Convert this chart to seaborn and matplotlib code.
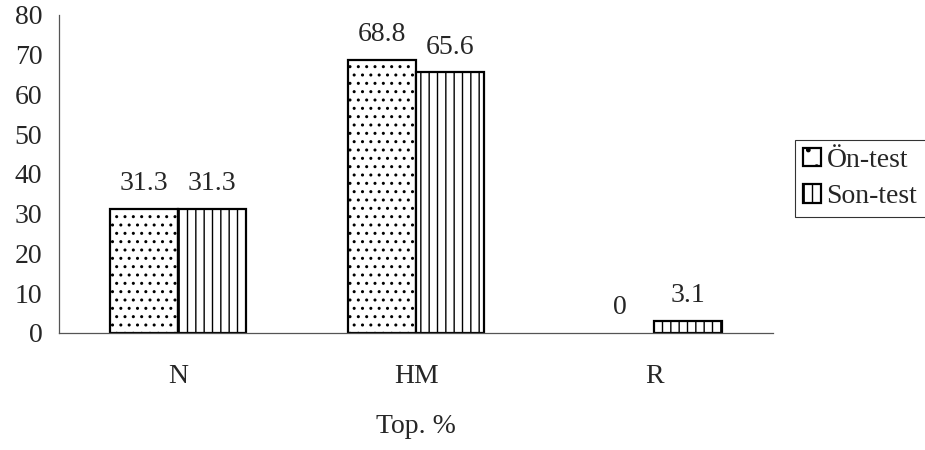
import pandas as pd
import seaborn as sns
import matplotlib
matplotlib.use('Agg')
import matplotlib.pyplot as plt
from matplotlib.patches import Patch

# Data
categories = ['N', 'HM', 'R']
pre_test = [31.3, 68.8, 0]
post_test = [31.3, 65.6, 3.1]
series_names = ['Ön-test', 'Son-test']

df = pd.DataFrame({
    'category': categories * 2,
    'value': pre_test + post_test,
    'test': [series_names[0]] * 3 + [series_names[1]] * 3,
})

sns.set_style('white')
plt.rcParams['font.family'] = ['Liberation Serif', 'DejaVu Serif']
plt.rcParams['hatch.linewidth'] = 1.0
plt.rcParams['hatch.color'] = 'black'
fs = 20

fig = plt.figure(figsize=(9.25, 4.5), dpi=100)
ax = fig.add_axes([0.0638, 0.26, 0.772, 0.7067])

sns.barplot(data=df, x='category', y='value', hue='test', order=categories,
            hue_order=series_names, palette=['white', 'white'], width=0.572,
            edgecolor='black', linewidth=1.6, ax=ax, legend=False, saturation=1)

hatches = ['..', '||']
for container, h in zip(ax.containers, hatches):
    for bar in container:
        bar.set_hatch(h)
        if bar.get_height() == 0:
            bar.set_visible(False)
    ax.bar_label(container, labels=[f'{v:g}' for v in container.datavalues],
                 padding=9, fontsize=fs)

ax.set_ylim(0, 80)
ax.set_xlim(-0.5, 2.5)
ax.set_yticks(range(0, 81, 10))
ax.set_xticks([-0.5, 0.5, 1.5, 2.5], minor=True)
ax.tick_params(axis='x', which='major', length=0, pad=22, labelsize=fs)
ax.tick_params(axis='x', which='minor', length=7, width=0.9, direction='out', color='#555555')
ax.tick_params(axis='y', length=8, width=0.9, direction='out', pad=4, labelsize=fs, color='#555555')
ax.set_xlabel('Top. %', fontsize=fs, labelpad=18)
ax.set_ylabel('')

for side in ['top', 'right']:
    ax.spines[side].set_visible(False)
for side in ['left', 'bottom']:
    ax.spines[side].set_color('#555555')
    ax.spines[side].set_linewidth(0.9)

# Legend
handles = [Patch(facecolor='white', edgecolor='black', hatch=h, linewidth=1.6)
           for h in ['.', '||']]
leg = fig.legend(handles, series_names, loc='upper left', bbox_to_anchor=(0.859, 0.69),
                 fontsize=fs, frameon=True, fancybox=False, handlelength=0.65,
                 handleheight=0.65, handletextpad=0.2, borderpad=0.3, labelspacing=0.4,
                 borderaxespad=0)
leg.get_frame().set_edgecolor('black')
leg.get_frame().set_linewidth(0.8)

fig.savefig('out.png', dpi=100)
